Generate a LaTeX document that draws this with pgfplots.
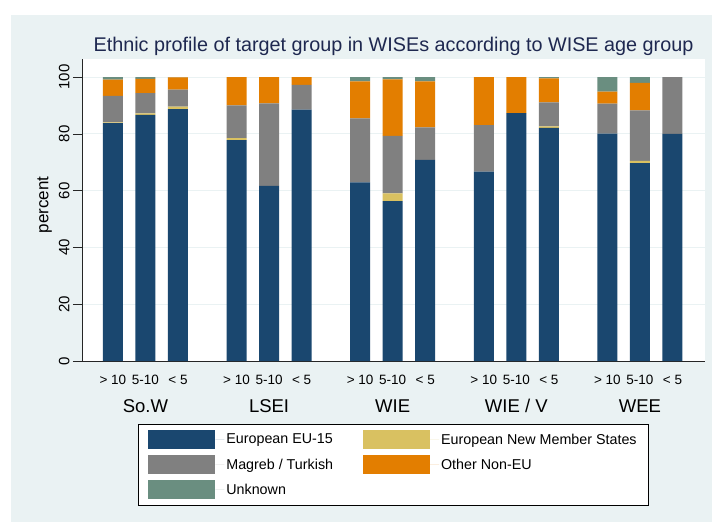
\documentclass[border=0pt]{standalone}
\usepackage{pgfplots}
\pgfplotsset{compat=1.18}
\usepackage{pgfplotstable}
\usepackage{fontspec}
\setmainfont{Liberation Sans}

\definecolor{cEU}{RGB}{26,71,111}
\definecolor{cNMS}{RGB}{217,193,97}
\definecolor{cMT}{RGB}{128,128,128}
\definecolor{cOTH}{RGB}{227,126,0}
\definecolor{cUNK}{RGB}{106,142,128}
\definecolor{bgc}{RGB}{234,242,243}
\definecolor{titlec}{RGB}{30,40,80}

% x = group*3.8 + age slot (> 10, 5-10, < 5)
\pgfplotstableread{
x    eu   nms  mt   oth  unk
0    83.8 0.3  9.3  5.7  0.9
1    86.7 0.5  7.2  5.0  0.6
2    88.7 0.9  6.0  4.3  0.1
3.8  77.8 0.7  11.6 9.9  0
4.8  61.7 0    29.1 9.2  0
5.8  88.6 0    8.7  2.7  0
7.6  62.9 0    22.6 13.0 1.5
8.6  56.3 2.8  20.2 19.9 0.8
9.6  70.9 0    11.4 16.2 1.5
11.4 66.7 0    16.4 16.9 0
12.4 87.3 0    0    12.7 0
13.4 82.1 0.6  8.4  8.5  0.4
15.2 80.1 0    10.6 4.2  5.1
16.2 69.7 0.8  17.8 9.7  2.0
17.2 80.0 0    20.0 0    0
}\datatable

\begin{document}
\begin{tikzpicture}
\fill[white] (-82pt,361pt) rectangle (630pt,-161pt);
\fill[bgc] (-71pt,346pt) rectangle (630pt,-161pt);
\node[anchor=base, font=\fontsize{19.8}{22}\selectfont, text=titlec] at (311.5pt,309pt)
  {Ethnic profile of target group in WISEs according to WISE age group};
\begin{axis}[
  at={(0pt,0pt)}, anchor=south west,
  scale only axis, width=623pt, height=302pt,
  xmin=-0.95, xmax=18.2, ymin=0, ymax=106.4,
  ybar stacked, bar width=0.615,
  clip=false,
  axis background/.style={fill=white},
  axis lines*=left,
  axis line style={line width=0.8pt, black!85},
  tick align=outside,
  major tick length=9pt,
  ytick={0,20,...,100},
  ytick style={line width=0.8pt, black!85},
  yticklabel style={rotate=90, anchor=south, font=\fontsize{15}{17}\selectfont},
  ymajorgrids, grid style={line width=0.9pt, bgc},
  xtick={0,1,2,3.8,4.8,5.8,7.6,8.6,9.6,11.4,12.4,13.4,15.2,16.2,17.2},
  xticklabels={{> 10},{5-10},{< 5},{> 10},{5-10},{< 5},{> 10},{5-10},{< 5},{> 10},{5-10},{< 5},{> 10},{5-10},{< 5}},
  xtick style={draw=none},
  xticklabel style={anchor=base, yshift=-14pt, font=\fontsize{13.5}{15}\selectfont},
  /pgf/number format/assume math mode=true,
  ylabel={percent},
  ylabel style={at={(axis description cs:-0.06,0.517)}, anchor=center, font=\fontsize{17}{19}\selectfont},
  legend style={at={(0.5,-0.2086)}, anchor=north, legend columns=2, draw=black, line width=0.6pt,
    fill=white, font=\fontsize{14.3}{16}\selectfont, inner xsep=10pt, inner ysep=6pt, row sep=6pt,
    /tikz/every even column/.append style={column sep=28pt}},
  legend cell align=left,
  legend image code/.code={\fill[#1] (0pt,-9.5pt) rectangle (67pt,9.5pt); \path (67pt,0pt) -- (76pt,0pt);},
]
\addplot[fill=cEU, draw=none] table[x=x, y=eu] {\datatable};
\addplot[fill=cNMS, draw=none] table[x=x, y=nms] {\datatable};
\addplot[fill=cMT, draw=none] table[x=x, y=mt] {\datatable};
\addplot[fill=cOTH, draw=none] table[x=x, y=oth] {\datatable};
\addplot[fill=cUNK, draw=none] table[x=x, y=unk] {\datatable};
\legend{European EU-15, European New Member States, Magreb / Turkish, Other Non-EU, Unknown}
\node[anchor=base, font=\fontsize{18.5}{20}\selectfont] at (axis cs:1,0) [yshift=-51pt] {So.W};
\node[anchor=base, font=\fontsize{18.5}{20}\selectfont] at (axis cs:4.8,0) [yshift=-51pt] {LSEI};
\node[anchor=base, font=\fontsize{18.5}{20}\selectfont] at (axis cs:8.6,0) [yshift=-51pt] {WIE};
\node[anchor=base, font=\fontsize{18.5}{20}\selectfont] at (axis cs:12.4,0) [yshift=-51pt] {WIE / V};
\node[anchor=base, font=\fontsize{18.5}{20}\selectfont] at (axis cs:16.2,0) [yshift=-51pt] {WEE};
\end{axis}
\end{tikzpicture}
\end{document}
